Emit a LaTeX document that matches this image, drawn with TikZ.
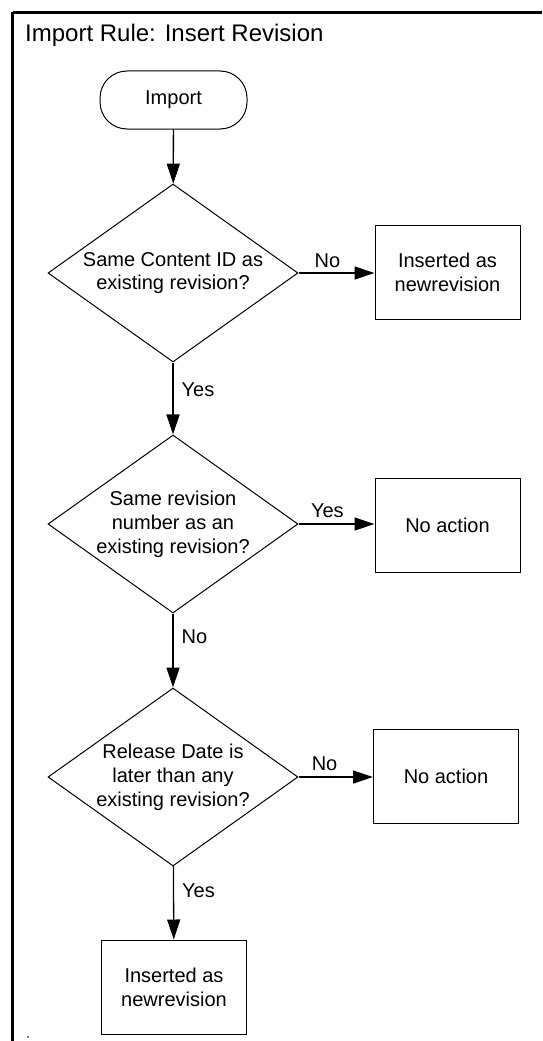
\documentclass[tikz,border=0pt]{standalone}
\usepackage{fontspec}
\setmainfont{Liberation Sans}
\usetikzlibrary{shapes.geometric,arrows.meta}
\begin{document}
\begin{tikzpicture}[x=1pt,y=-1pt,
  every node/.style={font=\fontsize{20}{24}\selectfont},
  decision/.style={draw,shape=diamond,minimum width=250pt,minimum height=178pt,inner sep=0pt,line width=1pt},
  action/.style={draw,rectangle,minimum width=145pt,minimum height=94pt,inner sep=0pt,line width=1pt,align=center},
  terminal/.style={draw,rectangle,rounded corners=27pt,minimum width=147pt,minimum height=58pt,inner sep=0pt,line width=1pt},
  flow/.style={line width=1.3pt,-{Triangle[length=20pt,width=13pt]}},
  lbl/.style={inner sep=0pt},
  frame/.style={line width=3pt}
]
\useasboundingbox (0,0) rectangle (542,1041);
\draw[frame] (12.5,12.5) -- (542,12.5);
\draw[frame] (12.5,12.5) -- (12.5,1041);
\node[anchor=base west,inner sep=0pt,font=\fontsize{24}{28}\selectfont] (title) at (25,42) {Import Rule: Insert Revision};

\node[terminal] (imp) at (173.5,100) {Import};
\node[decision,label={[align=center,font=\fontsize{20}{23}\selectfont]center:Same Content ID as\\existing revision?}] (d1) at (173,273) {};
\node[action] (b1) at (447.5,272) {Inserted as\\newrevision};
\node[decision,label={[align=center,font=\fontsize{20}{24}\selectfont]center:Same revision\\number as an\\existing revision?}] (d2) at (173,524) {};
\node[action] (b2) at (447.5,525) {No action};
\node[decision,label={[align=center,font=\fontsize{20}{24}\selectfont]center:Release Date is\\later than any\\existing revision?}] (d3) at (173,777) {};
\node[action] (b3) at (446,776.5) {No action};
\node[action] (b4) at (174,987) {Inserted as\\newrevision};

\draw[flow] (imp) -- (d1);
\draw[flow] (d1.east) -- node[lbl,above=5pt,pos=0.38] {No} (b1.west |- d1.east);
\draw[flow] (d1) -- node[lbl,right=8pt,pos=0.38] {Yes} (d2);
\draw[flow] (d2.east) -- node[lbl,above=6pt,pos=0.38] {Yes} (b2.west |- d2.east);
\draw[flow] (d2) -- node[lbl,right=8pt,pos=0.32] {No} (d3);
\draw[flow] (d3.east) -- node[lbl,above=6pt,pos=0.35] {No} (b3.west |- d3.east);
\draw[flow] (d3) -- node[lbl,right=8pt,pos=0.33] {Yes} (b4);

\fill[gray] (27,1036) rectangle (29,1038);
\end{tikzpicture}
\end{document}
